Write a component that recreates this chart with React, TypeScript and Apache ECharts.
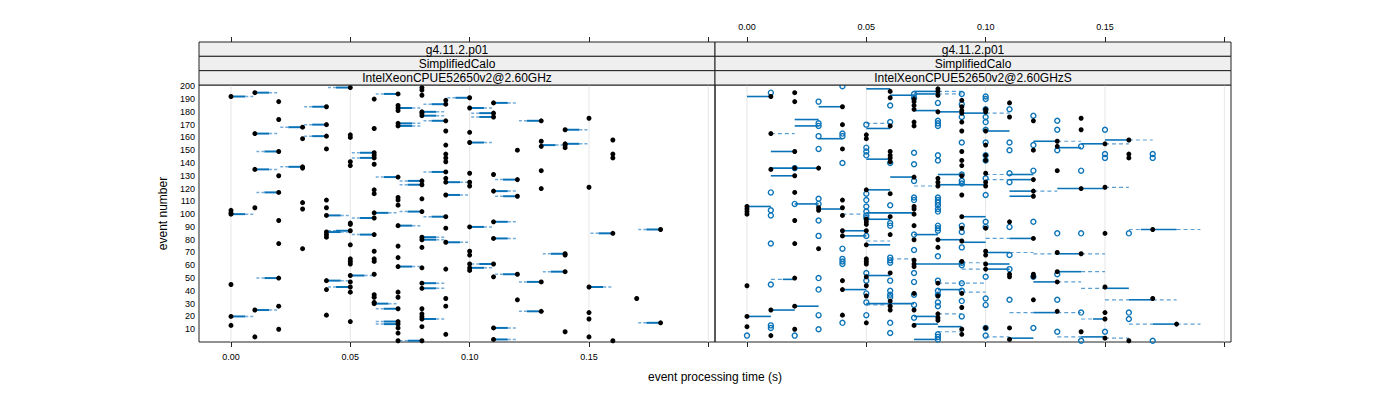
import React, { useEffect, useRef } from "react";
import * as echarts from "echarts";

// ---------- strip labels ----------
const stripLevel1 = ["g4.11.2.p01", "g4.11.2.p01"];
const stripLevel2 = ["SimplifiedCalo", "SimplifiedCalo"];
const stripLevel3 = ["IntelXeonCPUE52650v2@2.60GHz", "IntelXeonCPUE52650v2@2.60GHzS"];

// ---------- axes ----------
const xTickValues = [0, 0.05, 0.1, 0.15, 0.2];
const xLabelValues = [0, 0.05, 0.1, 0.15];
const yLabelValues = [10, 20, 30, 40, 50, 60, 70, 80, 90, 100, 110, 120, 130, 140, 150, 160, 170, 180, 190, 200];
const xTitle = "event processing time (s)";
const yTitle = "event number";

// ---------- left panel: event numbers of black points, per processing time ----------
const leftDotsByTime: [number, number[]][] = [
  [0.0, [192, 103, 101, 100, 45, 20, 13]],
  [0.01, [195, 163, 135, 105, 25, 4]],
  [0.02, [188, 174, 149, 130, 117, 95, 77, 50, 28, 10]],
  [0.03, [168, 159, 137, 136, 109, 104, 73]],
  [0.04, [184, 170, 161, 151, 111, 105, 99, 86, 84, 82, 48, 41, 21]],
  [0.05, [199, 162, 160, 141, 138, 93, 92, 87, 76, 65, 63, 61, 52, 47, 43, 39, 16]],
  [0.06, [190, 167, 148, 146, 144, 139, 119, 116, 101, 97, 84, 71, 65, 63, 53, 37, 35, 31, 30]],
  [0.07, [194, 185, 183, 181, 171, 169, 129, 113, 111, 107, 91, 75, 66, 59, 39, 35, 26, 16, 14, 11, 7, 1]],
  [0.08, [199, 197, 193, 180, 179, 177, 126, 123, 112, 102, 82, 80, 74, 58, 46, 42, 26, 22, 20, 18, 12, 1]],
  [0.09, [189, 186, 173, 165, 154, 147, 144, 141, 133, 128, 125, 115, 98, 89, 78, 57, 34, 28, 6]],
  [0.1, [191, 183, 164, 156, 132, 125, 122, 90, 71, 68, 61, 58, 56]],
  [0.11, [187, 179, 176, 131, 118, 94, 81, 61, 51, 11, 2]],
  [0.12, [150, 127, 114, 53, 33]],
  [0.13, [173, 157, 153, 134, 120, 47, 24]],
  [0.14, [166, 155, 154, 152, 69, 68, 55, 8]],
  [0.15, [175, 121, 43, 23, 18, 4]],
  [0.16, [158, 147, 144, 85, 1]],
  [0.17, [34]],
  [0.18, [88, 15]],
];

// left panel segments: [event, time at point, time at other end]
const leftSegs: [number, number, number][] = [
  [192, 0.0, 0.01], [195, 0.01, 0.02], [199, 0.05, 0.04], [194, 0.07, 0.06], [183, 0.07, 0.08],
  [184, 0.04, 0.03], [180, 0.08, 0.09], [177, 0.08, 0.09], [179, 0.11, 0.1], [176, 0.11, 0.1],
  [186, 0.09, 0.08], [191, 0.1, 0.09], [183, 0.1, 0.11], [187, 0.11, 0.12], [173, 0.09, 0.08],
  [173, 0.13, 0.12], [171, 0.07, 0.08], [169, 0.07, 0.08], [170, 0.04, 0.03], [168, 0.03, 0.02],
  [166, 0.14, 0.15], [163, 0.01, 0.02], [161, 0.04, 0.03], [156, 0.1, 0.11], [155, 0.14, 0.15],
  [154, 0.13, 0.14], [149, 0.02, 0.01], [148, 0.06, 0.05], [144, 0.06, 0.05], [137, 0.03, 0.02],
  [135, 0.01, 0.02], [133, 0.09, 0.08], [129, 0.07, 0.06], [127, 0.12, 0.11], [126, 0.08, 0.07],
  [125, 0.09, 0.1], [123, 0.08, 0.07], [118, 0.11, 0.12], [117, 0.02, 0.01], [115, 0.09, 0.1],
  [114, 0.12, 0.11], [101, 0.06, 0.07], [102, 0.08, 0.07], [100, 0.0, 0.01], [99, 0.04, 0.05],
  [98, 0.09, 0.08], [97, 0.06, 0.05], [94, 0.11, 0.12], [91, 0.07, 0.08], [90, 0.1, 0.11],
  [88, 0.18, 0.17], [87, 0.05, 0.04], [86, 0.04, 0.05], [85, 0.16, 0.15], [84, 0.06, 0.05],
  [82, 0.08, 0.09], [81, 0.11, 0.12], [80, 0.08, 0.09], [78, 0.09, 0.1], [69, 0.14, 0.13],
  [61, 0.11, 0.1], [59, 0.07, 0.08], [58, 0.1, 0.11], [55, 0.14, 0.13], [53, 0.12, 0.11],
  [52, 0.05, 0.06], [50, 0.02, 0.01], [48, 0.04, 0.05], [47, 0.13, 0.12], [46, 0.08, 0.09],
  [43, 0.05, 0.04], [43, 0.15, 0.16], [42, 0.08, 0.09], [30, 0.06, 0.07], [26, 0.07, 0.06],
  [25, 0.01, 0.02], [24, 0.13, 0.12], [20, 0.0, 0.01], [18, 0.08, 0.09], [16, 0.07, 0.06],
  [15, 0.18, 0.17], [14, 0.07, 0.06], [11, 0.11, 0.12], [2, 0.11, 0.12], [1, 0.08, 0.07],
];

// ---------- right panel ----------
const rightBlackByTime: [number, number[]][] = [
  [0.0, [106, 104, 102, 100, 44, 20, 12]],
  [0.01, [192, 163, 135, 25, 5]],
  [0.02, [195, 188, 149, 136, 130, 117, 95, 77, 50, 28, 10]],
  [0.03, [136, 105, 103, 73]],
  [0.04, [184, 170, 151, 111, 105, 99, 87, 83, 48, 41, 21]],
  [0.05, [162, 159, 119, 96, 94, 92, 87, 76, 65, 63, 61, 51, 44, 36, 15]],
  [0.06, [196, 191, 169, 149, 146, 144, 141, 116, 98, 84, 54, 32, 28, 25]],
  [0.07, [190, 188, 185, 182, 172, 169, 129, 106, 104, 100, 91, 80, 64, 61, 59, 38, 25, 13]],
  [0.08, [198, 196, 193, 180, 128, 125, 122, 80, 74, 46, 36, 22, 19, 17]],
  [0.09, [189, 184, 181, 179, 172, 165, 149, 142, 138, 130, 115, 98, 89, 79, 63, 38, 27, 10, 6]],
  [0.1, [182, 180, 165, 154, 146, 142, 132, 125, 122, 89, 71, 68, 61, 57, 11]],
  [0.11, [187, 176, 94, 53, 51, 11, 2]],
  [0.12, [173, 150, 127, 118, 114, 81, 53, 51, 33]],
  [0.13, [157, 153, 134, 70, 55, 47, 24]],
  [0.14, [175, 166, 120, 69, 8]],
  [0.15, [155, 121, 85, 43, 23, 18, 3]],
  [0.16, [158, 147, 144, 1]],
  [0.17, [88, 34]],
  [0.18, [14]],
];

const rightBlueByTime: [number, number[]][] = [
  [0.0, [5]],
  [0.01, [195, 117, 103, 99, 77, 45, 13, 11]],
  [0.02, [136, 108, 5]],
  [0.03, [188, 171, 169, 161, 151, 112, 108, 95, 83, 50, 41, 21, 10]],
  [0.04, [200, 163, 161, 140, 73, 65, 63, 61, 15]],
  [0.05, [170, 152, 149, 146, 116, 111, 106, 102, 99, 97, 83, 54, 48, 38, 31, 21]],
  [0.06, [185, 172, 140, 107, 93, 91, 66, 64, 62, 48, 40, 37, 35, 15, 7]],
  [0.07, [194, 191, 148, 139, 126, 113, 111, 84, 72, 54, 47, 37, 29, 19]],
  [0.08, [187, 173, 171, 169, 146, 142, 113, 111, 109, 107, 104, 102, 91, 89, 87, 67, 48, 40, 37, 31, 28, 6, 4, 2]],
  [0.09, [194, 186, 176, 156, 131, 126, 124, 91, 86, 74, 62, 60, 46, 40, 32, 20]],
  [0.1, [192, 190, 182, 176, 172, 166, 156, 146, 142, 128, 115, 94, 90, 51, 34, 29, 11, 5]],
  [0.11, [182, 156, 150, 132, 125, 90, 68, 57, 33]],
  [0.12, [177, 154, 134, 94, 51, 11]],
  [0.13, [173, 166, 150, 85, 53, 33, 8]],
  [0.14, [153, 134, 85, 23, 1]],
  [0.15, [166, 147, 144, 8]],
  [0.16, [85, 23, 18]],
  [0.17, [147, 144, 1]],
];

// right panel solid segments: [event, from, to]
const rightSolid: [number, number, number][] = [
  [192, 0.0, 0.01], [198, 0.05, 0.06], [196, 0.07, 0.08], [194, 0.07, 0.08], [193, 0.06, 0.07],
  [184, 0.03, 0.04], [181, 0.07, 0.08], [180, 0.08, 0.09], [179, 0.09, 0.1], [174, 0.02, 0.03],
  [169, 0.02, 0.03], [167, 0.05, 0.06], [165, 0.1, 0.11], [159, 0.03, 0.04], [158, 0.15, 0.16],
  [157, 0.12, 0.13], [155, 0.14, 0.15], [152, 0.13, 0.14], [149, 0.01, 0.02], [143, 0.05, 0.06],
  [136, 0.01, 0.03], [131, 0.11, 0.12], [131, 0.08, 0.09], [130, 0.01, 0.02], [129, 0.06, 0.07],
  [127, 0.11, 0.12], [123, 0.08, 0.09], [123, 0.09, 0.1], [120, 0.13, 0.15], [119, 0.05, 0.06],
  [118, 0.11, 0.12], [114, 0.11, 0.12], [108, 0.02, 0.03], [106, 0.0, 0.01], [104, 0.03, 0.04],
  [101, 0.05, 0.07], [98, 0.09, 0.1], [96, 0.05, 0.06], [88, 0.165, 0.18], [87, 0.04, 0.05],
  [84, 0.07, 0.08], [83, 0.04, 0.05], [81, 0.11, 0.12], [80, 0.08, 0.09], [78, 0.09, 0.1],
  [76, 0.05, 0.06], [70, 0.1, 0.11], [69, 0.13, 0.14], [61, 0.07, 0.09], [61, 0.1, 0.11],
  [57, 0.1, 0.11], [55, 0.13, 0.14], [52, 0.05, 0.06], [49, 0.015, 0.02], [47, 0.12, 0.13],
  [42, 0.15, 0.16], [41, 0.04, 0.05], [41, 0.08, 0.09], [33, 0.16, 0.17], [30, 0.05, 0.07],
  [28, 0.02, 0.03], [25, 0.01, 0.02], [23, 0.12, 0.13], [20, 0.0, 0.01], [20, 0.07, 0.08],
  [18, 0.145, 0.15], [14, 0.07, 0.08], [14, 0.17, 0.18], [12, 0.08, 0.09], [4, 0.14, 0.15],
  [3, 0.11, 0.12], [2, 0.07, 0.08],
];

// right panel dashed segments: [event, from, to]
const rightDashed: [number, number, number][] = [
  [196, 0.08, 0.09], [194, 0.08, 0.09], [179, 0.1, 0.11], [171, 0.05, 0.06], [163, 0.01, 0.02],
  [158, 0.16, 0.17], [157, 0.13, 0.14], [155, 0.15, 0.16], [131, 0.1, 0.11], [127, 0.1, 0.11],
  [122, 0.07, 0.08], [121, 0.15, 0.16], [118, 0.12, 0.13], [100, 0.04, 0.05], [88, 0.16, 0.165],
  [88, 0.18, 0.19], [81, 0.1, 0.11], [79, 0.05, 0.06], [70, 0.11, 0.12], [69, 0.12, 0.13],
  [69, 0.14, 0.15], [65, 0.06, 0.07], [62, 0.09, 0.1], [57, 0.09, 0.1], [55, 0.14, 0.15],
  [49, 0.01, 0.015], [47, 0.13, 0.14], [46, 0.08, 0.1], [42, 0.14, 0.15], [39, 0.09, 0.1],
  [33, 0.15, 0.16], [33, 0.17, 0.18], [29, 0.05, 0.06], [23, 0.11, 0.12], [23, 0.13, 0.14],
  [22, 0.08, 0.09], [18, 0.14, 0.145], [14, 0.16, 0.17], [14, 0.18, 0.19], [8, 0.08, 0.09],
  [4, 0.1, 0.11], [4, 0.13, 0.14], [3, 0.15, 0.16],
];

// ---------- styling / layout ----------
const FONT = "'Liberation Sans', Arial, Helvetica, sans-serif";
const BLUE = "#0a73b8";
const BLUE_LIGHT = "#5c9fd3";
const XMIN = -0.0134;
const XMAX = 0.2028;
const YMIN = 0;
const YMAX = 201;
const PANEL_LEFT = [199, 715];
const PANEL_W = 516;
const PANEL_TOP = 85;
const PANEL_H = 257;
const STRIP_TOP = 42;
const STRIP_H = (PANEL_TOP - STRIP_TOP) / 3;

function flatten(byTime: [number, number[]][]): number[][] {
  const out: number[][] = [];
  byTime.forEach(([t, evs]) => evs.forEach((e) => out.push([t, e])));
  return out;
}

function refLineSeries(xi: number, yi: number) {
  return {
    type: "custom",
    xAxisIndex: xi,
    yAxisIndex: yi,
    silent: true,
    z: 1,
    data: xTickValues.map((v) => [v]),
    encode: { x: 0 },
    renderItem: (_p: any, api: any) => {
      const a = api.coord([api.value(0), YMIN]);
      const b = api.coord([api.value(0), YMAX]);
      return {
        type: "line",
        shape: { x1: a[0], y1: a[1], x2: b[0], y2: b[1] },
        style: { stroke: "#e6e6e6", lineWidth: 1 },
      };
    },
  };
}

function leftSegSeries() {
  return {
    type: "custom",
    xAxisIndex: 0,
    yAxisIndex: 0,
    silent: true,
    z: 2,
    data: leftSegs,
    encode: { x: [1, 2], y: 0 },
    renderItem: (_p: any, api: any) => {
      const ev = api.value(0);
      const p1 = api.coord([api.value(1), ev]);
      const p2 = api.coord([api.value(2), ev]);
      const mx = p1[0] + (p2[0] - p1[0]) * 0.6;
      return {
        type: "group",
        children: [
          {
            type: "line",
            shape: { x1: p1[0], y1: p1[1], x2: mx, y2: p1[1] },
            style: { stroke: BLUE, lineWidth: 2 },
          },
          {
            type: "line",
            shape: { x1: mx, y1: p1[1], x2: p2[0], y2: p1[1] },
            style: { stroke: BLUE_LIGHT, lineWidth: 1.5, lineDash: [3, 2], opacity: 0.85 },
          },
        ],
      };
    },
  };
}

function rightSegSeries(data: [number, number, number][], dashed: boolean) {
  return {
    type: "custom",
    xAxisIndex: 2,
    yAxisIndex: 1,
    silent: true,
    z: 2,
    data,
    encode: { x: [1, 2], y: 0 },
    renderItem: (_p: any, api: any) => {
      const ev = api.value(0);
      const p1 = api.coord([api.value(1), ev]);
      const p2 = api.coord([api.value(2), ev]);
      return {
        type: "line",
        shape: { x1: p1[0], y1: p1[1], x2: p2[0], y2: p2[1] },
        style: dashed
          ? { stroke: BLUE_LIGHT, lineWidth: 1.2, lineDash: [4, 3] }
          : { stroke: BLUE, lineWidth: 1.6 },
      };
    },
  };
}

function xAxisCfg(gridIndex: number, position: "top" | "bottom", showLabels: boolean) {
  return {
    type: "value",
    gridIndex,
    position,
    offset: position === "top" ? PANEL_TOP - STRIP_TOP : 0,
    min: XMIN,
    max: XMAX,
    axisLine: { show: false },
    splitLine: { show: false },
    axisTick: {
      show: true,
      inside: false,
      length: 5,
      customValues: xTickValues,
      lineStyle: { color: "#222", width: 1 },
    },
    axisLabel: {
      show: showLabels,
      customValues: xLabelValues,
      formatter: (v: number) => v.toFixed(2),
      fontSize: 9,
      fontFamily: FONT,
      color: "#000",
      margin: position === "top" ? 11 : 10,
    },
  };
}

function yAxisCfg(gridIndex: number, showLabels: boolean) {
  return {
    type: "value",
    gridIndex,
    min: YMIN,
    max: YMAX,
    axisLine: { show: false },
    splitLine: { show: false },
    axisTick: { show: false },
    axisLabel: {
      show: showLabels,
      customValues: yLabelValues,
      fontSize: 9,
      fontFamily: FONT,
      color: "#000",
      margin: 4,
    },
  };
}

function stripGraphics() {
  const els: any[] = [];
  const levels = [stripLevel1, stripLevel2, stripLevel3];
  PANEL_LEFT.forEach((left, pi) => {
    levels.forEach((lvl, li) => {
      const top = STRIP_TOP + li * STRIP_H;
      els.push({
        type: "rect",
        shape: { x: left, y: top, width: PANEL_W, height: STRIP_H },
        style: { fill: "#efefef", stroke: "#222", lineWidth: 1 },
        z: 10,
      });
      els.push({
        type: "text",
        x: left + PANEL_W / 2,
        y: top + STRIP_H / 2 + 0.5,
        style: {
          text: lvl[pi],
          fontSize: 12,
          fontFamily: FONT,
          fill: "#000",
          align: "center",
          verticalAlign: "middle",
        },
        z: 11,
      });
    });
  });
  els.push({
    type: "text",
    x: PANEL_LEFT[1],
    y: 377,
    style: { text: xTitle, fontSize: 12, fontFamily: FONT, fill: "#000", align: "center", verticalAlign: "middle" },
  });
  els.push({
    type: "text",
    x: 163,
    y: PANEL_TOP + PANEL_H / 2,
    rotation: Math.PI / 2,
    style: { text: yTitle, fontSize: 12, fontFamily: FONT, fill: "#000", align: "center", verticalAlign: "middle" },
  });
  return els;
}

export default function App() {
  const ref = useRef<HTMLDivElement>(null);
  useEffect(() => {
    document.body.style.margin = "0";
    if (!ref.current) return;
    const chart = echarts.init(ref.current, undefined, { renderer: "svg" });
    const leftPts = flatten(leftDotsByTime);
    const rightBlack = flatten(rightBlackByTime);
    const rightBlue = flatten(rightBlueByTime);
    chart.setOption({
      animation: false,
      backgroundColor: "#ffffff",
      grid: PANEL_LEFT.map((left) => ({
        left,
        top: PANEL_TOP,
        width: PANEL_W,
        height: PANEL_H,
        show: true,
        borderColor: "#222",
        borderWidth: 1,
        backgroundColor: "transparent",
        containLabel: false,
      })),
      xAxis: [
        xAxisCfg(0, "bottom", true),
        xAxisCfg(0, "top", false),
        xAxisCfg(1, "bottom", false),
        xAxisCfg(1, "top", true),
      ],
      yAxis: [yAxisCfg(0, true), yAxisCfg(1, false)],
      graphic: stripGraphics(),
      series: [
        refLineSeries(0, 0),
        refLineSeries(2, 1),
        leftSegSeries(),
        rightSegSeries(rightDashed, true),
        rightSegSeries(rightSolid, false),
        {
          type: "scatter",
          name: "left",
          xAxisIndex: 0,
          yAxisIndex: 0,
          data: leftPts,
          symbol: "circle",
          symbolSize: 5,
          itemStyle: { color: "#000", opacity: 1 },
          silent: true,
          z: 4,
        },
        {
          type: "scatter",
          name: "rightBlue",
          xAxisIndex: 2,
          yAxisIndex: 1,
          data: rightBlue,
          symbol: "circle",
          symbolSize: 5,
          itemStyle: { color: "transparent", borderColor: BLUE, borderWidth: 1.4, opacity: 1 },
          silent: true,
          z: 3,
        },
        {
          type: "scatter",
          name: "rightBlack",
          xAxisIndex: 2,
          yAxisIndex: 1,
          data: rightBlack,
          symbol: "circle",
          symbolSize: 5,
          itemStyle: { color: "#000", opacity: 1 },
          silent: true,
          z: 4,
        },
      ],
    });
    return () => chart.dispose();
  }, []);
  return <div ref={ref} style={{ width: 1400, height: 400 }} />;
}
